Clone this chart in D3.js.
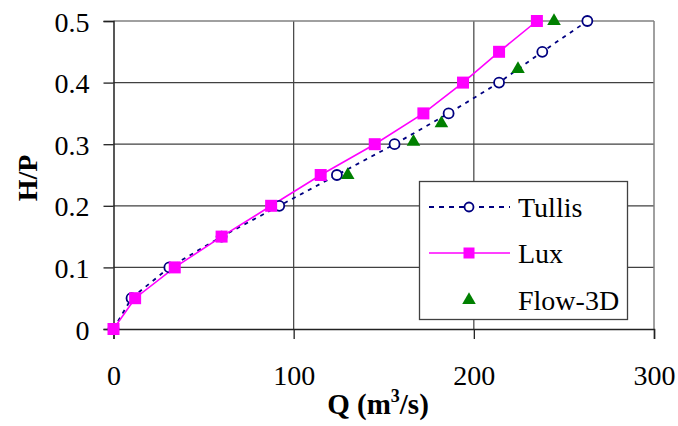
<!DOCTYPE html>
<html>
<head>
<meta charset="utf-8">
<script src="https://cdn.jsdelivr.net/npm/d3@7"></script>
<style>
  body { margin: 0; background: #fff; }
  text { font-family: "Liberation Serif", "Times New Roman", serif; }
</style>
</head>
<body>
<div id="chart"></div>
<script>
// values
var xTicks = [0, 100, 200, 300];
var yTicks = [0, 0.1, 0.2, 0.3, 0.4, 0.5];

var tullisQ = [0, 10, 31, 60, 92, 124, 156, 186, 214, 238, 263];
var tullisH = [0, 0.05, 0.1, 0.15, 0.2, 0.25, 0.3, 0.35, 0.4, 0.45, 0.5];

var luxQ = [0, 12, 34, 60, 87.5, 115, 145, 172, 194, 214, 235];
var luxH = [0, 0.05, 0.1, 0.15, 0.2, 0.25, 0.3, 0.35, 0.4, 0.45, 0.5];

var flowQ = [130, 166.5, 182, 224.5, 244.5];
var flowH = [0.25, 0.304, 0.334, 0.422, 0.5];

var seriesNames = ["Tullis", "Lux", "Flow-3D"];

var W = 678, H = 426;
var margin = {top: 21, right: 24, bottom: 97, left: 113.5};
var width = W - margin.left - margin.right,
    height = H - margin.top - margin.bottom;

var svg = d3.select("#chart").append("svg")
    .attr("width", W).attr("height", H);

var g = svg.append("g")
    .attr("transform", "translate(" + margin.left + "," + margin.top + ")");

var x = d3.scaleLinear().domain([0, 300]).range([0, width]);
var y = d3.scaleLinear().domain([0, 0.5]).range([height, 0]);

// grid lines
g.append("g").selectAll("line.gx")
  .data(xTicks.slice(1, -1)).enter().append("line")
    .attr("x1", d => x(d)).attr("x2", d => x(d))
    .attr("y1", 0).attr("y2", height)
    .attr("stroke", "#404040").attr("stroke-width", 1.2);
g.append("g").selectAll("line.gy")
  .data(yTicks.slice(1, -1)).enter().append("line")
    .attr("x1", 0).attr("x2", width)
    .attr("y1", d => y(d)).attr("y2", d => y(d))
    .attr("stroke", "#404040").attr("stroke-width", 1.2);

// gray frame top and right
g.append("line").attr("x1", 0).attr("x2", width).attr("y1", 0).attr("y2", 0)
  .attr("stroke", "#808080").attr("stroke-width", 1.5);
g.append("line").attr("x1", width).attr("x2", width).attr("y1", 0).attr("y2", height)
  .attr("stroke", "#808080").attr("stroke-width", 1.5);

// axes
var xAxis = g.append("g")
    .attr("transform", "translate(0," + height + ")")
    .call(d3.axisBottom(x).tickValues(xTicks).tickSize(10).tickPadding(26).tickFormat(d3.format("d")));
var yAxis = g.append("g")
    .call(d3.axisLeft(y).tickValues(yTicks).tickSize(10).tickPadding(14).tickFormat(d => d === 0 ? "0" : d3.format(".1f")(d)));

[xAxis, yAxis].forEach(function(a) {
  a.select(".domain").attr("stroke", "#222").attr("stroke-width", 1.5);
  a.selectAll(".tick line").attr("stroke", "#222").attr("stroke-width", 1.3);
  a.selectAll(".tick text")
    .attr("font-size", 28).attr("fill", "#000");
});
yAxis.selectAll(".tick text").attr("dy", "0.36em");

// series lines
var tullis = tullisQ.map((q, i) => [q, tullisH[i]]);
var lux = luxQ.map((q, i) => [q, luxH[i]]);
var flow = flowQ.map((q, i) => [q, flowH[i]]);

var line = d3.line().x(d => x(d[0])).y(d => y(d[1]));

g.append("path").datum(tullis).attr("d", line)
  .attr("fill", "none").attr("stroke", "#000080")
  .attr("stroke-width", 1.8).attr("stroke-dasharray", "4,5");

g.append("path").datum(lux).attr("d", line)
  .attr("fill", "none").attr("stroke", "#FF00FF").attr("stroke-width", 1.6);

g.append("g").selectAll("circle").data(tullis).enter().append("circle")
  .attr("cx", d => x(d[0])).attr("cy", d => y(d[1])).attr("r", 5)
  .attr("fill", "#fff").attr("stroke", "#000080").attr("stroke-width", 1.8);

g.append("g").selectAll("rect").data(lux).enter().append("rect")
  .attr("x", d => x(d[0]) - 6).attr("y", d => y(d[1]) - 6)
  .attr("width", 12).attr("height", 12).attr("fill", "#FF00FF");

var tri = d3.symbol().type(d3.symbolTriangle).size(80);
g.append("g").selectAll("path").data(flow).enter().append("path")
  .attr("d", tri)
  .attr("transform", d => "translate(" + x(d[0]) + "," + y(d[1]) + ")")
  .attr("fill", "#008000");

// axis titles
svg.append("text")
  .attr("transform", "translate(37,178) rotate(-90)")
  .attr("text-anchor", "middle")
  .attr("font-size", 28).attr("font-weight", "bold")
  .text("H/P");

var xt = svg.append("text")
  .attr("x", 378).attr("y", 414)
  .attr("text-anchor", "middle")
  .attr("font-size", 29).attr("font-weight", "bold");
xt.append("tspan").text("Q (m");
xt.append("tspan").attr("font-size", 18).attr("dy", -12).text("3");
xt.append("tspan").attr("dy", 12).text("/s)");

// legend
var lg = svg.append("g");
lg.append("rect").attr("x", 419.5).attr("y", 181.5).attr("width", 208).attr("height", 138)
  .attr("fill", "#fff").attr("stroke", "#404040").attr("stroke-width", 1.3);

var rows = [207, 253, 300];
rows.forEach(function(ry, i) {
  if (i === 0) {
    lg.append("line").attr("x1", 429).attr("x2", 510).attr("y1", ry).attr("y2", ry)
      .attr("stroke", "#000080").attr("stroke-width", 1.8).attr("stroke-dasharray", "5,5");
    lg.append("circle").attr("cx", 469).attr("cy", ry).attr("r", 4.5)
      .attr("fill", "#fff").attr("stroke", "#000080").attr("stroke-width", 1.8);
  } else if (i === 1) {
    lg.append("line").attr("x1", 429).attr("x2", 510).attr("y1", ry).attr("y2", ry)
      .attr("stroke", "#FF00FF").attr("stroke-width", 1.6);
    lg.append("rect").attr("x", 469 - 5.5).attr("y", ry - 5.5).attr("width", 11).attr("height", 11)
      .attr("fill", "#FF00FF");
  } else {
    lg.append("path").attr("d", tri).attr("transform", "translate(469," + ry + ")")
      .attr("fill", "#008000");
  }
  lg.append("text").attr("x", 518).attr("y", ry).attr("dy", "0.35em")
    .attr("font-size", 28).text(seriesNames[i]);
});
</script>
</body>
</html>
